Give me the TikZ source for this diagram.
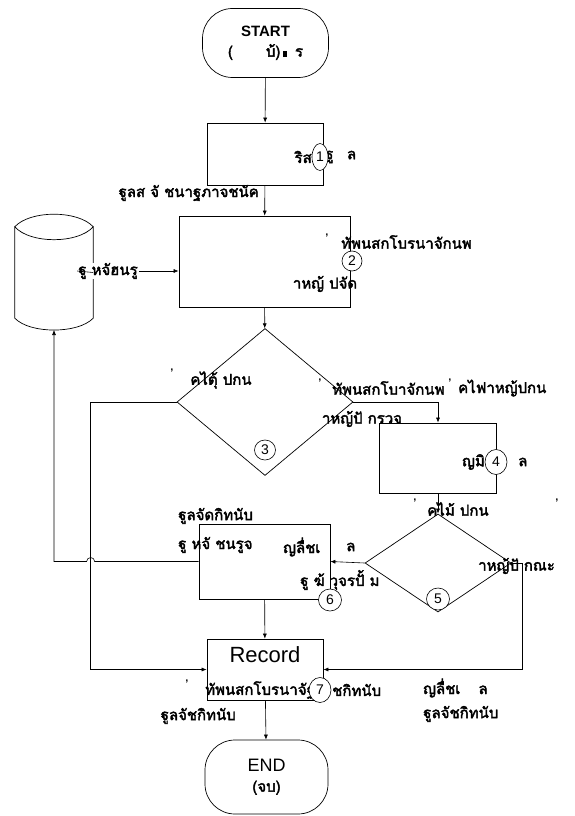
\documentclass[tikz,border=0pt]{standalone}
\usepackage{fontspec}
\setmainfont{Liberation Sans}
\newfontfamily\thaifont[Script=Thai,FakeBold=2.5]{Loma}
\usetikzlibrary{arrows.meta,calc,positioning,shapes.geometric}
\tikzset{
  flowline/.style={line width=0.6pt,draw=black},
  arr/.style={flowline,-{Latex[length=5pt,width=4pt]}},
  procbox/.style={draw,line width=0.7pt,inner sep=0pt},
  decision/.style={diamond,draw,line width=0.7pt,inner sep=0pt},
  terminal/.style={draw,line width=0.7pt,rounded corners=30pt,align=center,
                   minimum width=126pt,font=\fontsize{15}{18}\selectfont},
  num/.style={ellipse,draw,fill=white,line width=0.6pt,inner sep=0pt,
              font=\fontsize{14}{14}\selectfont},
  thai/.style={inner sep=0pt,font=\thaifont\fontsize{15}{15}\selectfont},
  tick/.style={inner sep=0pt,font=\bfseries\fontsize{11}{11}\selectfont}
}

\begin{document}
\begin{tikzpicture}[x=1pt,y=-1pt]
  \useasboundingbox[fill=white] (0,0) rectangle (574,816);
  % shapes
  \node[terminal,minimum height=69pt] (start) at (265.5,43)
       {\textbf{START}\\[2pt]{\thaifont (\hspace{2.2em}บ้)\,\rule{.3em}{.4em}\, ร}};
  \node[procbox,minimum width=116pt,minimum height=62pt] (box1) at (265,154) {};
  \node[procbox,minimum width=171pt,minimum height=91pt] (box2) at (264.5,261.5) {};
  \node[decision,minimum width=176pt,minimum height=147pt] (dia3) at (265,402) {};
  \node[procbox,minimum width=117pt,minimum height=70pt] (box4) at (438,458) {};
  \node[decision,minimum width=146pt,minimum height=98pt] (dia5) at (438,563) {};
  \node[procbox,minimum width=131pt,minimum height=75pt] (box6) at (264.5,561.5) {};
  \node[procbox,minimum width=116pt,minimum height=61pt] (rec) at (265,669.5) {};
  \node[terminal,minimum width=123pt,minimum height=74pt,font=\fontsize{18}{20}\selectfont]
       (end) at (266.5,777) {END\\[0pt]{\thaifont\fontsize{15}{15}\selectfont (จบ)}};
  % database
  \node[minimum width=78pt,minimum height=91pt,inner sep=0pt] (db) at (54,272.5) {};
  \coordinate (dbbot) at (54,330);
  \draw[line width=0.7pt] (db.north west) .. controls (30,210) and (78,210) .. (db.north east);
  \draw[line width=0.7pt] (db.north west) .. controls (30,244) and (78,244) .. (db.north east)
        -- (db.south east) .. controls (78,334) and (30,334) .. (db.south west) -- cycle;
  \node[procbox,draw=none] (rectxt) at (265,655) {\fontsize{22}{22}\selectfont Record};

  % texts
  \node[thai,anchor=east] (t1a) at (312,157) {ริส};
  \node[thai,anchor=west] (t1b) at (325,157) {ฐู\hspace{.9em}ล};
  \node[thai,anchor=east] (t1c) at (259,193) {ฐูลส จั ชนาฐภาจชนัค};
  \node[thai,fill=white,inner xsep=1pt] (tdb) at (108,271) {ฐู หจัฮนรู};
  \node[tick] (k2) at (327,238) {'};
  \node[thai,anchor=west] (t2a) at (341,242) {ทัพนสกโบรนาจักนพ};
  \node[thai] (t2b) at (325,284) {าหญ้ ปจัด};
  \node[tick] (k3) at (172,373) {'};
  \node[thai] (t3a) at (221,380) {คไตุ้ ปกน};
  \node[tick] (k3b) at (320,383) {'};
  \node[thai,anchor=west] (t3b) at (332,388) {ทัพนสกโบาจักนพ};
  \node[tick] (k3c) at (450,383) {'};
  \node[thai,anchor=west] (t3c) at (458,388) {คไฟาหญ้ปกน};
  \node[thai] (t3d) at (362,419) {าหญ้ปั กรวจ};
  \node[thai,anchor=east] (t4a) at (485,462) {ญมิ};
  \node[thai,anchor=west] (t4b) at (518,462) {ล};
  \node[tick] (k5) at (415,503) {'};
  \node[thai] (t5a) at (458,509) {คไม้ ปกน};
  \node[tick] (k5b) at (557,503) {'};
  \node[thai,anchor=west] (t5b) at (478,566) {าหญ้ปั กณะ};
  \node[thai,anchor=west] (t6a) at (178,516) {ฐูลจัดกิทนับ};
  \node[thai,anchor=west] (t6b) at (178,545) {ฐู หจั ชนรูจ};
  \node[thai,anchor=west] (t6c) at (283,547) {ญลื่ชเ};
  \node[thai,anchor=west] (t6d) at (346,547) {ล};
  \node[thai,anchor=west] (t6e) at (300,580) {ฐู ฆ้ วุจรปั้ ม};
  \node[tick] (k7) at (187,684) {'};
  \node[thai,anchor=west] (t7a) at (205,690) {ทัพนสกโบรนาจัฐ};
  \node[thai,anchor=west] (t7b) at (332,690) {ชกิทนับ};
  \node[thai,anchor=east] (t7c) at (236,716) {ฐูลจัชกิทนับ};
  \node[thai,anchor=west] (t7d) at (423,688) {ญลื่ชเ\hspace{1.2em}ล};
  \node[thai,anchor=west] (t7e) at (423,714) {ฐูลจัชกิทนับ};

  % connectors
  \draw[arr] (start) -- (box1);
  \draw[arr] (box1) -- (box2);
  \draw[arr] (tdb.east) -- (tdb.east -| box2.west);
  \draw[flowline] (db.east) -- (tdb.west);
  \draw[arr] (box2) -- (dia3);
  \coordinate (lft) at ($(dia3.west)+(-86,0)$);
  \draw[arr] (dia3.west) -- (lft) |- (rec.west);
  \draw[arr] (dia3.east) -| (box4.north);
  \draw[arr] (box4) -- (dia5);
  \draw[arr] (dia5.west) -- (box6.east);
  \draw[arr] (box6.west) -- ($(box6.west -| lft)+(4,0)$)
        arc[start angle=0,end angle=180,radius=4pt] -- (box6.west -| dbbot) -- (dbbot);
  \draw[arr] (box6) -- (rec);
  \draw[arr] (dia5.east) -- ++(11,0) |- (rec.east);
  \draw[arr] (rec) -- (end);

  % step numbers
  \node[num,minimum width=16pt,minimum height=27pt] (n1) at (320,157) {1};
  \node[num,minimum width=20pt,minimum height=20pt] (n2) at (352,261) {2};
  \node[num,minimum width=21pt,minimum height=20pt] (n3) at (265,450) {3};
  \node[num,minimum width=22pt,minimum height=25pt] (n4) at (496,462) {4};
  \node[num,minimum width=23pt,minimum height=22pt] (n5) at (438,599) {5};
  \node[num,minimum width=23pt,minimum height=22pt] (n6) at (330,600) {6};
  \node[num,minimum width=22pt,minimum height=25pt] (n7) at (320,690) {7};
\end{tikzpicture}
\end{document}
